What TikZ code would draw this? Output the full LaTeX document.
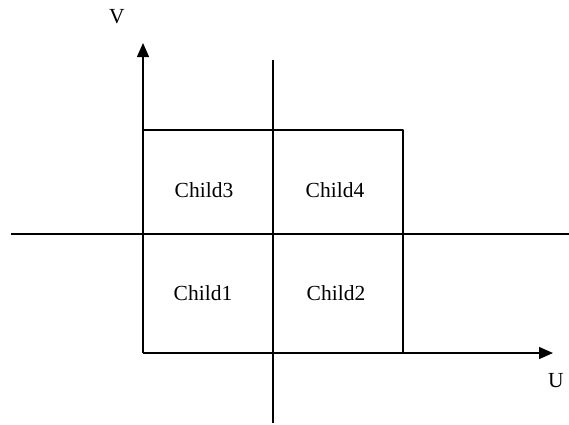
\documentclass[tikz,border=0pt]{standalone}
\usepackage{fontspec}
\setmainfont{Liberation Serif}
\usetikzlibrary{arrows.meta}
\begin{document}
\begin{tikzpicture}[x=1pt,y=-1pt,>={Triangle[length=14pt,width=12pt]},line width=1.4pt,line join=round,font=\fontsize{21.5}{25}\selectfont]
	\useasboundingbox (0,0) rectangle (569,424);
	\coordinate (O) at (143,353);
	\coordinate (vtip) at (143,43);
	\coordinate (utip) at (553,353);
	\coordinate (TR) at (403,130);
	\coordinate (hl) at (11,234);
	\coordinate (hr) at (569,234);
	\coordinate (vt) at (273,60);
	\coordinate (vb) at (273,423);
	\draw[->] (O)--(vtip);
	\draw[->] (O)--(utip);
	\draw (O |- TR)--(TR)--(TR |- O);
	\draw (hl)--(hr);
	\draw (vt)--(vb);
	\node (V) at (117,17) {V};
	\node (U) at (556,381) {U};
	\node (child3) at (204,190) {Child3};
	\node (child4) at (335,190) {Child4};
	\node (child1) at (203,293) {Child1};
	\node (child2) at (336,293) {Child2};
\end{tikzpicture}
\end{document}
